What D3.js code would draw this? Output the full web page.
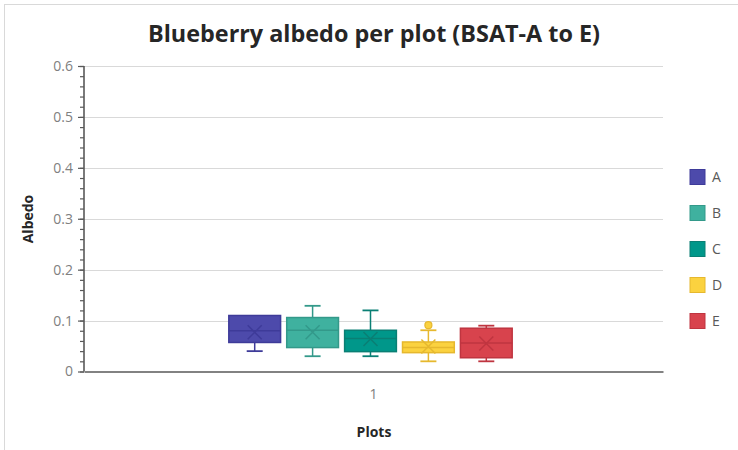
<!DOCTYPE html>
<html>
<head>
<meta charset="utf-8">
<script src="https://cdn.jsdelivr.net/npm/d3@7"></script>
<style>
  html, body { margin: 0; padding: 0; background: #fff; }
  svg { display: block; font-family: "Open Sans", "Noto Sans", sans-serif; }
</style>
</head>
<body>
<svg id="chart" width="738" height="450"></svg>
<script>
// Plot categories and series
const categories = ["1"];
const series = ["A", "B", "C", "D", "E"];

// Five-number summaries per plot
const mins    = [0.040, 0.030, 0.030, 0.020, 0.020];
const q1s     = [0.057, 0.047, 0.039, 0.037, 0.027];
const medians = [0.080, 0.081, 0.065, 0.047, 0.056];
const q3s     = [0.110, 0.106, 0.081, 0.058, 0.085];
const maxs    = [0.110, 0.129, 0.120, 0.081, 0.090];
const means   = [0.077, 0.077, 0.064, 0.049, 0.055];
// Points beyond the whiskers
const outliers = [[], [], [], [0.091], []];

const yTicks = [0, 0.1, 0.2, 0.3, 0.4, 0.5, 0.6];

const fills   = ["#4d4aab", "#3fb19f", "#00978a", "#fbd23f", "#d8434d"];
const strokes = ["#3e3b99", "#33998a", "#0a7f74", "#e6b82e", "#bf3540"];

const svg = d3.select("#chart");

// Frame lines along the top and left edges
svg.append("line").attr("x1", 4).attr("x2", 738).attr("y1", 4.5).attr("y2", 4.5)
  .attr("stroke", "#d9d9d9").attr("stroke-width", 1);
svg.append("line").attr("x1", 4.5).attr("x2", 4.5).attr("y1", 4).attr("y2", 450)
  .attr("stroke", "#d9d9d9").attr("stroke-width", 1);

const margin = { left: 84, right: 663, top: 66, bottom: 371.5 };

const y = d3.scaleLinear().domain([0, 0.6]).range([margin.bottom, margin.top]);
const x0 = d3.scaleBand().domain(categories).range([margin.left, margin.right])
  .paddingInner(0).paddingOuter(0.5);
const x1 = d3.scaleBand().domain(series).range([-3, x0.bandwidth() - 3])
  .paddingInner(0.08).paddingOuter(0.04);

// Horizontal gridlines
svg.append("g").selectAll("line").data(yTicks.filter(d => d > 0)).join("line")
  .attr("x1", margin.left).attr("x2", margin.right)
  .attr("y1", d => Math.round(y(d)) + 0.5).attr("y2", d => Math.round(y(d)) + 0.5)
  .attr("stroke", "#d9d9d9").attr("stroke-width", 1);

// Y axis with minor ticks
const yAxis = svg.append("g").attr("transform", `translate(${margin.left},0)`);
yAxis.call(d3.axisLeft(y).tickValues(d3.range(0, 0.6001, 0.02)).tickSize(4).tickFormat(""));
yAxis.call(g => g.select(".domain").remove());
yAxis.selectAll(".tick line").attr("stroke", "#595959").attr("stroke-width", 1.2);
const yMajor = svg.append("g").attr("transform", `translate(${margin.left},0)`);
yMajor.call(d3.axisLeft(y).tickValues(yTicks).tickSize(6).tickPadding(5)
  .tickFormat(d => d === 0 ? "0" : d3.format(".1f")(d)));
yMajor.select(".domain").remove();
yMajor.selectAll(".tick line").attr("stroke", "#595959").attr("stroke-width", 1.2);
yMajor.selectAll(".tick text").attr("fill", "#808080").attr("font-size", 14)
  .attr("font-family", "Open Sans, sans-serif");
svg.append("line").attr("x1", margin.left).attr("x2", margin.left)
  .attr("y1", margin.top).attr("y2", margin.bottom)
  .attr("stroke", "#595959").attr("stroke-width", 1.6);

// X axis
const xAxis = svg.append("g").attr("transform", `translate(0,${margin.bottom})`);
xAxis.call(d3.axisBottom(x0).tickSize(0).tickPadding(18));
xAxis.select(".domain").attr("stroke", "#595959").attr("stroke-width", 1.6);
xAxis.selectAll(".tick text").attr("fill", "#808080").attr("font-size", 14)
  .attr("font-family", "Open Sans, sans-serif");

// Box plots
const boxes = series.map((s, i) => ({
  s, i, min: mins[i], q1: q1s[i], med: medians[i], q3: q3s[i], max: maxs[i],
  mean: means[i], out: outliers[i]
}));
const gBoxes = svg.append("g").attr("transform", `translate(${x0("1")},0)`);
const bg = gBoxes.selectAll("g.box").data(boxes).join("g").attr("class", "box")
  .attr("transform", d => `translate(${x1(d.s)},0)`);
const bw = x1.bandwidth();
const capW = 16;

// whiskers
bg.append("line").attr("x1", bw / 2).attr("x2", bw / 2)
  .attr("y1", d => y(d.q3)).attr("y2", d => y(d.max))
  .attr("stroke", d => strokes[d.i]).attr("stroke-width", 1.5);
bg.append("line").attr("x1", bw / 2).attr("x2", bw / 2)
  .attr("y1", d => y(d.q1)).attr("y2", d => y(d.min))
  .attr("stroke", d => strokes[d.i]).attr("stroke-width", 1.5);
bg.filter(d => d.max > d.q3).append("line")
  .attr("x1", bw / 2 - capW / 2).attr("x2", bw / 2 + capW / 2)
  .attr("y1", d => y(d.max)).attr("y2", d => y(d.max))
  .attr("stroke", d => strokes[d.i]).attr("stroke-width", 1.8);
bg.append("line")
  .attr("x1", bw / 2 - capW / 2).attr("x2", bw / 2 + capW / 2)
  .attr("y1", d => y(d.min)).attr("y2", d => y(d.min))
  .attr("stroke", d => strokes[d.i]).attr("stroke-width", 1.8);

// box
bg.append("rect").attr("x", 0.75).attr("width", bw - 1.5)
  .attr("y", d => y(d.q3)).attr("height", d => y(d.q1) - y(d.q3))
  .attr("fill", d => fills[d.i]).attr("stroke", d => strokes[d.i]).attr("stroke-width", 1.5);

// median
bg.append("line").attr("x1", 0.75).attr("x2", bw - 0.75)
  .attr("y1", d => y(d.med)).attr("y2", d => y(d.med))
  .attr("stroke", d => strokes[d.i]).attr("stroke-width", 1.5);

// mean marker (X)
const mk = 7;
bg.append("path")
  .attr("d", d => {
    const cx = bw / 2, cy = y(d.mean);
    return `M${cx - mk},${cy - mk}L${cx + mk},${cy + mk}M${cx - mk},${cy + mk}L${cx + mk},${cy - mk}`;
  })
  .attr("stroke", d => strokes[d.i]).attr("stroke-width", 1.5).attr("fill", "none");

// outliers
bg.each(function (d) {
  d3.select(this).selectAll("circle").data(d.out).join("circle")
    .attr("cx", bw / 2).attr("cy", v => y(v)).attr("r", 3.5)
    .attr("fill", fills[d.i]).attr("stroke", strokes[d.i]).attr("stroke-width", 1.2);
});

// Title
svg.append("text").attr("x", 374).attr("y", 42).attr("text-anchor", "middle")
  .attr("font-size", 23).attr("font-weight", 700).attr("fill", "#262626")
  .attr("textLength", 452).attr("lengthAdjust", "spacingAndGlyphs")
  .text("Blueberry albedo per plot (BSAT-A to E)");

// Axis titles
svg.append("text").attr("transform", "translate(33,219) rotate(-90)")
  .attr("text-anchor", "middle").attr("font-size", 14).attr("font-weight", 700)
  .attr("fill", "#262626").text("Albedo");
svg.append("text").attr("x", 374).attr("y", 437).attr("text-anchor", "middle")
  .attr("font-size", 14).attr("font-weight", 700).attr("fill", "#262626").text("Plots");

// Legend
const legend = svg.append("g").selectAll("g").data(series).join("g")
  .attr("transform", (d, i) => `translate(690,${177 + i * 36})`);
legend.append("rect").attr("x", 0).attr("y", -7.5).attr("width", 15).attr("height", 15)
  .attr("fill", (d, i) => fills[i]).attr("stroke", (d, i) => strokes[i]).attr("stroke-width", 1);
legend.append("text").attr("x", 22).attr("y", 5).attr("font-size", 14)
  .attr("fill", "#595959").text(d => d);
</script>
</body>
</html>
